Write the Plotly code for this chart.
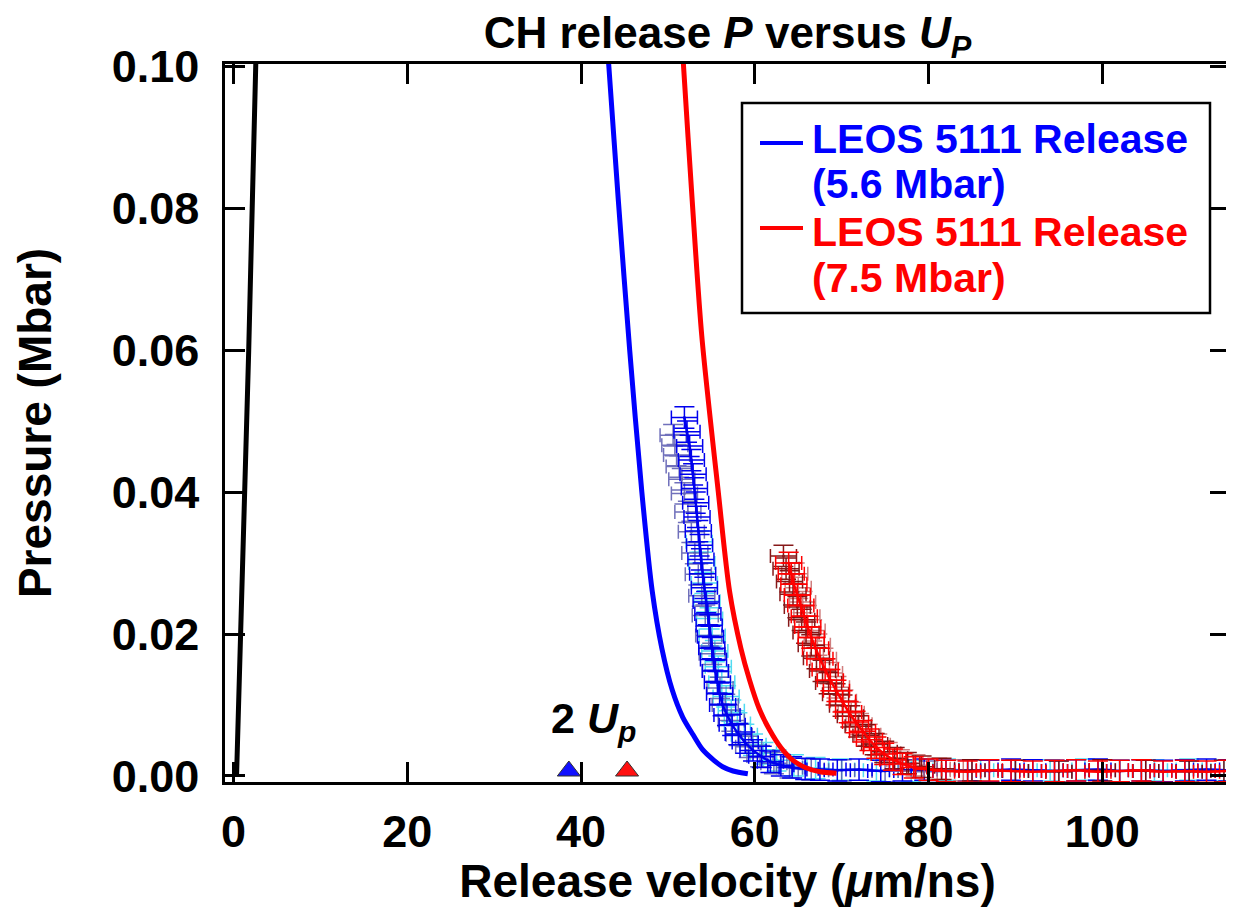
import plotly.graph_objects as go

# ---------------- data ----------------
# black reference line (near-vertical at low velocity)
black_x = [0.35, 0.85, 1.3, 1.75, 2.15, 2.55, 2.8]
black_p = [0.0, 0.02, 0.04, 0.06, 0.08, 0.10, 0.112]

# LEOS 5111 release, 5.6 Mbar (blue)
leos56_x = [42.6, 43.2, 44.3, 45.6, 47.0, 48.2, 49.3, 50.5, 51.7, 52.9, 54.0, 55.3, 56.3, 57.5, 59.2]
leos56_p = [0.110, 0.100, 0.081, 0.060, 0.040, 0.026, 0.018, 0.0121, 0.0083, 0.0058, 0.0037, 0.0022, 0.0013, 0.0007, 0.0003]

# LEOS 5111 release, 7.5 Mbar (red)
leos75_x = [51.3, 51.8, 52.8, 53.9, 55.8, 57.1, 58.4, 59.4, 60.5, 61.7, 63.0, 64.4, 65.8, 67.5, 69.4]
leos75_p = [0.110, 0.100, 0.081, 0.062, 0.040, 0.026, 0.018, 0.0135, 0.0095, 0.0065, 0.0040, 0.0022, 0.0012, 0.0006, 0.0004]

# measured release data, 5.6 Mbar shot (several overlapping records)
b1_x = [51.9, 52.2, 52.5, 52.7, 52.9, 53.05, 53.2, 53.35, 53.5, 53.65, 53.8, 54.0, 54.2, 54.4, 54.6, 54.75,
        54.9, 55.05, 55.25, 55.45, 55.7, 55.95, 56.3, 56.8, 57.4, 58.1, 58.9, 59.8, 60.8, 61.8, 63.0, 64.3,
        65.8, 67.5, 69.5, 72.0, 74.5, 77.0, 79.5, 82.0, 84.5, 87.0, 89.5, 92.0, 94.5, 97.0, 99.5, 102.0,
        104.5, 107.0, 109.5, 112.0, 114.5]
b1_p = [0.0505, 0.0485, 0.0465, 0.0445, 0.0425, 0.0405, 0.0385, 0.0365, 0.0345, 0.0325, 0.0305, 0.0285,
        0.0265, 0.0245, 0.0228, 0.0212, 0.0196, 0.0180, 0.0164, 0.0148, 0.0132, 0.0116, 0.0100, 0.0086,
        0.0072, 0.0059, 0.0047, 0.0036, 0.0027, 0.0020, 0.0015, 0.0012, 0.0010, 0.0009, 0.0008, 0.0009,
        0.0007, 0.0008, 0.0009, 0.0007, 0.0008, 0.0007, 0.0009, 0.0008, 0.0007, 0.0008, 0.0009, 0.0007,
        0.0008, 0.0007, 0.0008, 0.0009, 0.0008]

b2_x = [50.6, 50.8, 51.0, 51.3, 51.6, 51.9, 52.3, 52.7, 53.1, 53.5, 53.9, 54.3, 54.7, 55.1, 55.5, 56.0,
        56.6, 57.3, 58.2, 59.3, 60.6, 62.2, 64.0, 66.5, 70.0, 75.0, 80.0, 85.0, 90.0, 95.0, 100.0, 105.0,
        110.0, 114.5]
b2_p = [0.0480, 0.0466, 0.0452, 0.0436, 0.0418, 0.0398, 0.0372, 0.0344, 0.0314, 0.0284, 0.0254, 0.0226,
        0.0198, 0.0172, 0.0148, 0.0124, 0.0100, 0.0078, 0.0058, 0.0041, 0.0028, 0.0018, 0.0012, 0.0009,
        0.0008, 0.0007, 0.0006, 0.0008, 0.0007, 0.0006, 0.0008, 0.0007, 0.0006, 0.0007]

b3_x = [53.6, 53.9, 54.2, 54.5, 54.8, 55.1, 55.4, 55.8, 56.2, 56.7, 57.3, 58.0, 58.8, 59.8, 61.0, 62.5,
        64.5, 67.0, 70.0, 74.0, 78.0, 82.0, 86.0, 90.0, 94.0, 98.0, 102.0, 106.0, 110.0, 114.0]
b3_p = [0.0330, 0.0300, 0.0272, 0.0246, 0.0222, 0.0198, 0.0176, 0.0154, 0.0132, 0.0112, 0.0092, 0.0074,
        0.0058, 0.0044, 0.0032, 0.0022, 0.0015, 0.0011, 0.0009, 0.0008, 0.0007, 0.0009, 0.0008, 0.0007,
        0.0008, 0.0009, 0.0007, 0.0008, 0.0009, 0.0008]

# measured release data, 7.5 Mbar shot
r1_x = [63.9, 64.2, 64.5, 64.9, 65.3, 65.7, 66.1, 66.5, 67.0, 67.5, 68.1, 68.7, 69.4, 70.1, 70.8, 71.6,
        72.4, 73.2, 74.0, 74.9, 75.9, 77.0, 78.3, 80.0, 82.0, 84.5, 87.0, 89.5, 92.0, 94.5, 97.0, 99.5,
        102.0, 104.5, 107.0, 109.5, 112.0, 114.5]
r1_p = [0.0300, 0.0285, 0.0270, 0.0255, 0.0240, 0.0225, 0.0210, 0.0195, 0.0180, 0.0165, 0.0150, 0.0135,
        0.0120, 0.0105, 0.0090, 0.0076, 0.0063, 0.0051, 0.0040, 0.0031, 0.0023, 0.0017, 0.0012, 0.0009,
        0.0007, 0.0006, 0.0008, 0.0007, 0.0006, 0.0007, 0.0008, 0.0006, 0.0007, 0.0008, 0.0006, 0.0007,
        0.0006, 0.0007]

r2_x = [63.3, 63.6, 64.0, 64.4, 64.9, 65.4, 65.9, 66.5, 67.1, 67.8, 68.5, 69.3, 70.1, 71.0, 71.9, 72.8,
        73.8, 74.9, 76.1, 77.5, 79.2, 81.5, 85.0, 90.0, 95.0, 100.0, 105.0, 110.0, 114.0]
r2_p = [0.0310, 0.0292, 0.0274, 0.0256, 0.0238, 0.0220, 0.0202, 0.0184, 0.0166, 0.0148, 0.0131, 0.0115,
        0.0099, 0.0084, 0.0070, 0.0057, 0.0045, 0.0034, 0.0025, 0.0018, 0.0013, 0.0010, 0.0008, 0.0007,
        0.0006, 0.0008, 0.0007, 0.0006, 0.0007]

r3_x = [64.6, 65.0, 65.5, 66.0, 66.6, 67.2, 67.9, 68.6, 69.4, 70.2, 71.1, 72.0, 73.0, 74.1, 75.3, 76.7,
        78.5, 81.0, 84.0]
r3_p = [0.0285, 0.0265, 0.0245, 0.0225, 0.0205, 0.0185, 0.0165, 0.0145, 0.0125, 0.0106, 0.0089, 0.0073,
        0.0058, 0.0044, 0.0032, 0.0022, 0.0015, 0.0010, 0.0008]

# uncertainties of the measured points
err_u = 1.5      # um/ns
err_p = 0.0015   # Mbar

# "2 Up" markers
up2_x = [38.6, 45.3]
up2_p = [0.0007, 0.0007]
up2_colors = ["#1010ff", "#ff1010"]

x_ticks = [0, 20, 40, 60, 80, 100]
y_ticks = [0.00, 0.02, 0.04, 0.06, 0.08, 0.10]

FONT = "Liberation Sans, Arial, Helvetica, sans-serif"

fig = go.Figure()


def data_trace(xs, ps, color, ecolor, opacity=1.0, name="", centre_line=False):
    return go.Scatter(
        x=xs, y=ps, mode="lines+markers" if centre_line else "markers", name=name,
        showlegend=False, opacity=opacity,
        line=dict(color=color, width=2.5),
        marker=dict(size=3, color=color),
        error_x=dict(type="constant", value=err_u, color=ecolor, thickness=1.5, width=7),
        error_y=dict(type="constant", value=err_p, color=ecolor, thickness=1.5, width=10),
    )


fig.add_trace(data_trace(b3_x, b3_p, "#30d8f0", "#40d8f0", 0.9, "5.6 Mbar data 3"))
fig.add_trace(data_trace(b2_x, b2_p, "#4848b0", "#5858b0", 0.85, "5.6 Mbar data 2"))
fig.add_trace(data_trace(b1_x, b1_p, "#0000ee", "#0000ee", 1.0, "5.6 Mbar data 1", True))
fig.add_trace(data_trace(r3_x, r3_p, "#d06060", "#c86868", 0.85, "7.5 Mbar data 3"))
fig.add_trace(data_trace(r2_x, r2_p, "#800000", "#7a0000", 0.9, "7.5 Mbar data 2"))
fig.add_trace(data_trace(r1_x, r1_p, "#ff0000", "#ff0000", 1.0, "7.5 Mbar data 1", True))

fig.add_trace(go.Scatter(x=leos56_x, y=leos56_p, mode="lines", name="LEOS 5111 Release (5.6 Mbar)",
                         line=dict(color="#0000ff", width=5, shape="spline", smoothing=0.8), showlegend=False))
fig.add_trace(go.Scatter(x=leos75_x, y=leos75_p, mode="lines", name="LEOS 5111 Release (7.5 Mbar)",
                         line=dict(color="#ff0000", width=5, shape="spline", smoothing=0.8), showlegend=False))
fig.add_trace(go.Scatter(x=black_x, y=black_p, mode="lines", name="reference",
                         line=dict(color="#000000", width=5), showlegend=False))
fig.add_trace(go.Scatter(x=up2_x, y=up2_p, mode="markers", name="2 Up", showlegend=False,
                         marker=dict(symbol="triangle-up", size=20, color=up2_colors,
                                     line=dict(color="#333333", width=1))))

# The page body has an 8 px margin; the figure is sized so that the plot area
# lands at page pixels x 225..1230, y 64..782.
OFF = 8
FIG_W, FIG_H = 1234 - OFF, 907 - OFF
L, R, T, B = 225, 1230, 64, 782


def px(xp):
    return (xp - L) / (R - L)


def py(yp):
    return (B - yp) / (B - T)


# legend drawn by hand (box, line samples, coloured text)
fig.add_shape(type="rect", xref="paper", yref="paper", x0=px(742), x1=px(1210), y0=py(313), y1=py(103),
              line=dict(color="black", width=2.5), fillcolor="white", layer="above")
fig.add_shape(type="line", xref="paper", yref="paper", x0=px(760), x1=px(803), y0=py(143), y1=py(143),
              line=dict(color="#0000ff", width=4), layer="above")
fig.add_shape(type="line", xref="paper", yref="paper", x0=px(760), x1=px(803), y0=py(228), y1=py(228),
              line=dict(color="#ff0000", width=4), layer="above")
legend_lines = [("LEOS 5111 Release", "#0000ff", 139), ("(5.6 Mbar)", "#0000ff", 184),
                ("LEOS 5111 Release", "#ff0000", 232), ("(7.5 Mbar)", "#ff0000", 278)]
for txt, col, yy in legend_lines:
    fig.add_annotation(xref="paper", yref="paper", x=px(810), y=py(yy), text=txt, showarrow=False,
                       xanchor="left", yanchor="middle",
                       font=dict(family=FONT, size=41, color=col, weight="bold"))

fig.add_annotation(x=41.4, y=0.0077, text="2 <i>U</i><sub><i>p</i></sub>", showarrow=False,
                   xanchor="center", yanchor="middle",
                   font=dict(family=FONT, size=43, color="black", weight="bold"))

axis_common = dict(
    showline=True, linecolor="black", linewidth=2.5, mirror="ticks",
    ticks="inside", ticklen=20, tickwidth=2.5, tickcolor="black",
    showgrid=False, zeroline=False,
    tickfont=dict(family=FONT, size=45, color="black", weight="bold"),
)

fig.update_layout(
    width=FIG_W, height=FIG_H,
    margin=dict(l=L - OFF, r=FIG_W - (R - OFF), t=T - OFF, b=FIG_H - (B - OFF), autoexpand=False),
    paper_bgcolor="white", plot_bgcolor="white",
    title=dict(text="CH release <i>P</i> versus <i>U</i><sub><i>P</i></sub>",
               x=((L + R) / 2 - OFF) / FIG_W, xref="container", xanchor="center",
               y=1 - (33 - OFF) / FIG_H, yref="container", yanchor="middle",
               font=dict(family=FONT, size=44, color="black", weight="bold")),
    xaxis=dict(range=[-0.98, 114.7], tickvals=x_ticks, ticktext=[str(v) for v in x_ticks],
               ticklabelstandoff=8,
               title=dict(text="Release velocity (<i>μ</i>m/ns)", standoff=12,
                          font=dict(family=FONT, size=46, color="black", weight="bold")),
               **axis_common),
    yaxis=dict(range=[-0.00085, 0.1003], tickvals=y_ticks, ticktext=[f"{v:.2f}" for v in y_ticks],
               ticklabelstandoff=14,
               title=dict(text="Pressure (Mbar)", standoff=46,
                          font=dict(family=FONT, size=46, color="black", weight="bold")),
               **axis_common),
)

fig.write_html("out.html")
